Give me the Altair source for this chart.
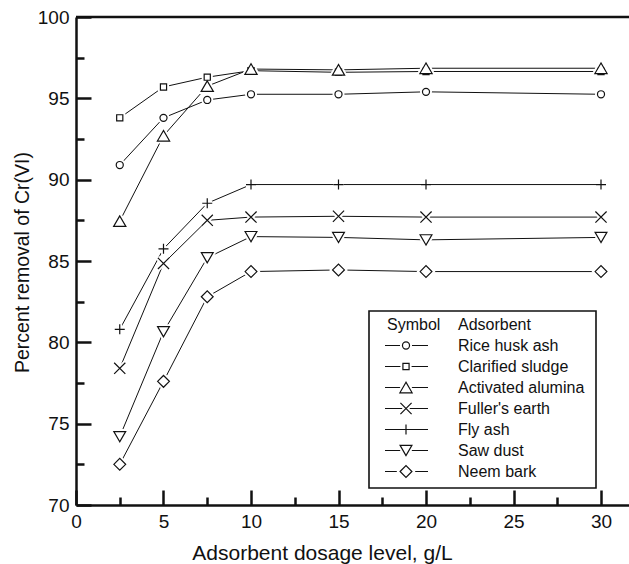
import altair as alt
import pandas as pd

# Adsorbent dosage (g/L) and percent removal of Cr(VI) for each adsorbent
dosage = [2.5, 5, 7.5, 10, 15, 20, 30]
rice_husk_ash = [90.9, 93.8, 94.9, 95.25, 95.25, 95.4, 95.25]
clarified_sludge = [93.8, 95.7, 96.3, 96.7, 96.6, 96.65, 96.65]
activated_alumina = [87.45, 92.7, 95.75, 96.8, 96.75, 96.85, 96.85]
fullers_earth = [78.4, 84.85, 87.5, 87.7, 87.75, 87.7, 87.7]
fly_ash = [80.8, 85.75, 88.55, 89.7, 89.7, 89.7, 89.7]
saw_dust = [74.2, 80.65, 85.2, 86.5, 86.45, 86.3, 86.45]
neem_bark = [72.5, 77.6, 82.8, 84.35, 84.45, 84.35, 84.35]

adsorbents = ["Rice husk ash", "Clarified sludge", "Activated alumina",
              "Fuller's earth", "Fly ash", "Saw dust", "Neem bark"]
series = [rice_husk_ash, clarified_sludge, activated_alumina,
          fullers_earth, fly_ash, saw_dust, neem_bark]

# Marker shapes (x and + as thin custom paths) and sizes per adsorbent
X_PATH = "M-1,-1L1,1M-1,1L1,-1"
PLUS_PATH = "M-1,0L1,0M0,-1L0,1"
shapes = ["circle", "square", "triangle-up", X_PATH, PLUS_PATH,
          "triangle-down", "diamond"]
sizes = [50, 38, 150, 125, 100, 140, 140]

x_major = [0, 5, 10, 15, 20, 25, 30]
x_minor = [2.5, 7.5, 12.5, 17.5, 22.5, 27.5]
y_major = [70, 75, 80, 85, 90, 95, 100]
y_minor = [72.5, 77.5, 82.5, 87.5, 92.5, 97.5]

rows = []
for name, vals in zip(adsorbents, series):
    for d, v in zip(dosage, vals):
        rows.append({"dosage": d, "removal": v, "adsorbent": name})
df = pd.DataFrame(rows)

W, H = 553, 488
Y_MIN, Y_MAX = 70, 100
FONT = "Liberation Sans"
INK = "#111111"

x_scale = alt.Scale(domain=[0, 31.6], nice=False, zero=False)
y_scale = alt.Scale(domain=[Y_MIN, Y_MAX], nice=False, zero=False)
shape_scale = alt.Scale(domain=adsorbents, range=shapes)
size_scale = alt.Scale(type="ordinal", domain=adsorbents, range=sizes)

# labelled bottom and left axes; a negative tick length turns the ticks
# inward, and the label padding makes up for it
x_axis = alt.Axis(values=x_major, ticks=True, tickSize={"expr": "-15"},
                  tickWidth=2.5, tickColor=INK, grid=False, domainColor=INK,
                  domainWidth=2.5, labelFont=FONT, labelFontSize=19,
                  labelColor=INK, labelPadding=22, labelFlush=False,
                  title="Adsorbent dosage level, g/L", titleFont=FONT,
                  titleFontSize=21, titleFontWeight="normal", titleColor=INK,
                  titleX=246, titleY=54, titleBaseline="alphabetic",
                  titleAlign="center", zindex=1)
y_axis = alt.Axis(values=y_major, ticks=True, tickSize={"expr": "-15"},
                  tickWidth=2.5, tickColor=INK, grid=False, domainColor=INK,
                  domainWidth=2.5, labelFont=FONT, labelFontSize=19,
                  labelColor=INK, labelPadding=22,
                  title="Percent removal of Cr(VI)", titleFont=FONT,
                  titleFontSize=19.5, titleFontWeight="normal",
                  titleColor=INK, titleAngle=-90, titleX=-48, titleY=245,
                  titleBaseline="alphabetic", titleAlign="center", zindex=1)

# second pair of axes carrying only the shorter minor ticks
x_minor_axis = alt.Axis(orient="bottom", values=x_minor, ticks=True,
                        tickSize={"expr": "-8"}, tickWidth=2.5,
                        tickColor=INK, domain=False, labels=False,
                        grid=False, title=None, zindex=1)
y_minor_axis = alt.Axis(orient="left", values=y_minor, ticks=True,
                        tickSize={"expr": "-8"}, tickWidth=2.5,
                        tickColor=INK, domain=False, labels=False,
                        grid=False, title=None, zindex=1)

shape_enc = alt.Shape("adsorbent:N", scale=shape_scale, legend=None)
size_enc = alt.Size("adsorbent:N", scale=size_scale, legend=None)

base = alt.Chart(df)
lines = base.mark_line(color=INK, strokeWidth=1).encode(
    x=alt.X("dosage:Q", scale=x_scale, axis=x_axis),
    y=alt.Y("removal:Q", scale=y_scale, axis=y_axis),
    detail="adsorbent:N")
minor_ticks = base.mark_point(opacity=0).encode(
    x=alt.X("dosage:Q", scale=x_scale, axis=x_minor_axis),
    y=alt.Y("removal:Q", scale=y_scale, axis=y_minor_axis))
halos = base.mark_point(filled=False, fill="white", stroke="white",
                        strokeWidth=5, opacity=1).encode(
    x=alt.X("dosage:Q", scale=x_scale, axis=None),
    y=alt.Y("removal:Q", scale=y_scale, axis=None),
    shape=shape_enc, size=size_enc)
points = base.mark_point(filled=False, fill="white", fillOpacity=1,
                         stroke=INK, strokeWidth=1.2, opacity=1).encode(
    x=alt.X("dosage:Q", scale=x_scale, axis=None),
    y=alt.Y("removal:Q", scale=y_scale, axis=None),
    shape=shape_enc, size=size_enc)

# legend: header on row 0, adsorbents on rows 1..7; rows are placed by
# converting a pixel offset from the top of the plot into the y data space
ROW0, ROW_STEP = 307.5, 21.0
row_to_y = (f"{Y_MAX} - ({ROW0} + {ROW_STEP} * datum.row) * "
            f"{Y_MAX - Y_MIN} / {H}")
leg_y = alt.Y("removal:Q", scale=y_scale, axis=None)

leg_df = pd.DataFrame({"row": list(range(1, len(adsorbents) + 1)),
                       "adsorbent": adsorbents})
hdr_df = pd.DataFrame({"row": [0, 0], "label": ["Symbol", "Adsorbent"],
                       "col": ["sym", "name"]})

box = alt.Chart(pd.DataFrame({"row": [0]})).mark_rect(
    fill="white", stroke=INK, strokeWidth=1.6).encode(
    x=alt.value(293), x2=alt.value(520), y=alt.value(294), y2=alt.value(471))

text_style = dict(align="left", baseline="alphabetic", dy=5.8, font=FONT,
                  fontSize=16, color=INK)
hdr = alt.Chart(hdr_df).transform_calculate(removal=row_to_y)
hdr_sym = hdr.transform_filter(alt.datum.col == "sym").mark_text(
    **text_style).encode(x=alt.value(311), y=leg_y, text="label:N")
hdr_name = hdr.transform_filter(alt.datum.col == "name").mark_text(
    **text_style).encode(x=alt.value(382), y=leg_y, text="label:N")

leg = alt.Chart(leg_df).transform_calculate(removal=row_to_y)
leg_lines = leg.mark_rule(color=INK, strokeWidth=1).encode(
    x=alt.value(309), x2=alt.value(352), y=leg_y)
leg_halos = leg.mark_point(filled=False, fill="white", stroke="white",
                           strokeWidth=5, opacity=1).encode(
    x=alt.value(330), y=leg_y, shape=shape_enc, size=size_enc)
leg_points = leg.mark_point(filled=False, fill="white", fillOpacity=1,
                            stroke=INK, strokeWidth=1.2, opacity=1).encode(
    x=alt.value(330), y=leg_y, shape=shape_enc, size=size_enc)
leg_text = leg.mark_text(**text_style).encode(
    x=alt.value(382), y=leg_y, text="adsorbent:N")

chart = alt.layer(
    lines, minor_ticks, halos, points,
    box, hdr_sym, hdr_name, leg_lines, leg_halos, leg_points, leg_text
).resolve_scale(
    x="independent", y="independent"
).properties(
    width=W, height=H,
    padding={"left": 76, "top": 17, "right": 0, "bottom": 59},
    autosize="none",
    background="white",
).configure_view(
    # only the top edge of the view outline is drawn (dash covers it exactly)
    stroke=INK, strokeWidth=2.5, strokeDash=[W, 4 * W]
)

chart.save("out.html", embed_options={"renderer": "svg", "actions": False})
